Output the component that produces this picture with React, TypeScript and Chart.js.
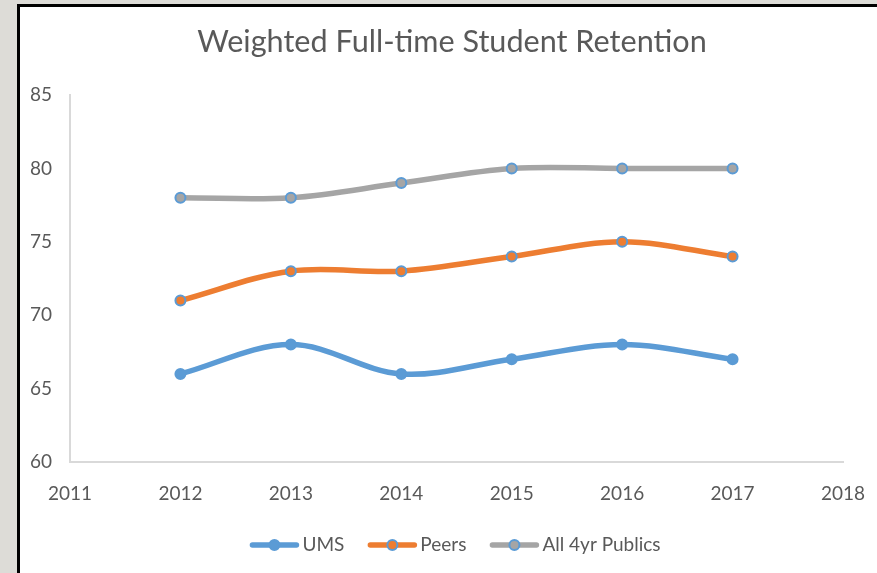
import React, { useEffect, useRef } from "react";
import { Chart, registerables } from "chart.js";
Chart.register(...registerables);

const years = [2012, 2013, 2014, 2015, 2016, 2017];
const umsValues = [66, 68, 66, 67, 68, 67];
const peersValues = [71, 73, 73, 74, 75, 74];
const allPublicsValues = [78, 78, 79, 80, 80, 80];
const seriesNames = ["UMS", "Peers", "All 4yr Publics"];
const seriesColors = ["#5B9BD5", "#ED7D31", "#A5A5A5"];
const markerBorder = "#5B9BD5";
const xMin = 2011;
const xMax = 2018;
const yMin = 60;
const yMax = 85;
const yStep = 5;
const titleText = "Weighted Full-time Student Retention";

const FONT = "Lato, 'Open Sans', sans-serif";
const TEXT = "#595959";

const W = 857;
const H = 566;

const overlayPlugin = {
  id: "overlay",
  afterDraw(chart: any) {
    const ctx = chart.ctx as CanvasRenderingContext2D;
    ctx.save();
    // title
    ctx.fillStyle = TEXT;
    ctx.font = `30.6px ${FONT}`;
    ctx.textAlign = "center";
    ctx.textBaseline = "middle";
    ctx.fillText(titleText, 432, 35);
    // legend
    ctx.font = `19px ${FONT}`;
    ctx.textAlign = "left";
    const lineLen = 50;
    const gap = 3;
    const spacing = 23;
    const widths = seriesNames.map((n) => lineLen + gap + ctx.measureText(n).width);
    const total = widths.reduce((a, b) => a + b, 0) + spacing * (seriesNames.length - 1);
    let x = 435 - total / 2;
    const y = 538;
    seriesNames.forEach((name, i) => {
      ctx.strokeStyle = seriesColors[i];
      ctx.lineWidth = 5.5;
      ctx.lineCap = "round";
      ctx.beginPath();
      ctx.moveTo(x + 3, y);
      ctx.lineTo(x + lineLen - 3, y);
      ctx.stroke();
      ctx.beginPath();
      ctx.arc(x + lineLen / 2, y, 5, 0, Math.PI * 2);
      ctx.fillStyle = seriesColors[i];
      ctx.fill();
      ctx.lineWidth = 2;
      ctx.strokeStyle = markerBorder;
      ctx.stroke();
      ctx.fillStyle = TEXT;
      ctx.textBaseline = "middle";
      ctx.fillText(name, x + lineLen + gap, y);
      x += widths[i] + spacing;
    });
    ctx.restore();
  },
};

export default function App() {
  const ref = useRef<HTMLCanvasElement>(null);
  useEffect(() => {
    if (!ref.current) return;
    const allSeries = [umsValues, peersValues, allPublicsValues];
    const chart = new Chart(ref.current, {
      type: "line",
      data: {
        datasets: allSeries.map((vals, i) => ({
          label: seriesNames[i],
          data: years.map((yr, j) => ({ x: yr, y: vals[j] })),
          borderColor: seriesColors[i],
          backgroundColor: seriesColors[i],
          borderWidth: 5.5,
          tension: 0.35,
          pointRadius: 5,
          pointBorderWidth: 2,
          pointBackgroundColor: seriesColors[i],
          pointBorderColor: markerBorder,
          borderCapStyle: "round",
        })),
      },
      options: {
        animation: false,
        responsive: false,
        layout: { padding: { left: 0, top: 88, right: 34, bottom: 0 } },
        plugins: { legend: { display: false }, title: { display: false }, tooltip: { enabled: false } },
        scales: {
          x: {
            type: "linear",
            min: xMin,
            max: xMax,
            grid: { display: false, drawTicks: false },
            border: { display: true, color: "#D9D9D9", width: 2 },
            ticks: {
              stepSize: 1,
              padding: 20,
              color: TEXT,
              font: { family: FONT, size: 19 },
              callback: (v: any) => String(v),
              maxRotation: 0,
            },
            afterFit: (s: any) => {
              s.height = 111;
              s.paddingLeft = 0;
              s.paddingRight = 0;
            },
          },
          y: {
            min: yMin,
            max: yMax,
            grid: { display: false, drawTicks: false },
            border: { display: true, color: "#D9D9D9", width: 2 },
            ticks: {
              stepSize: yStep,
              padding: 18,
              color: TEXT,
              font: { family: FONT, size: 19 },
            },
            afterFit: (s: any) => {
              s.width = 50;
              s.paddingTop = 0;
              s.paddingBottom = 0;
            },
          },
        },
      },
      plugins: [overlayPlugin],
    } as any);
    return () => chart.destroy();
  }, []);
  return (
    <div style={{ position: "fixed", left: 0, top: 0, width: 877, height: 573, background: "#DDDCD7", overflow: "hidden" }}>
      <div
        style={{
          position: "absolute",
          left: 17,
          top: 4,
          width: 880,
          height: 580,
          background: "#FFFFFF",
          borderLeft: "3px solid #000",
          borderTop: "3px solid #000",
        }}
      />
      <canvas ref={ref} width={W} height={H} style={{ position: "absolute", left: 20, top: 7, width: W, height: H }} />
    </div>
  );
}
